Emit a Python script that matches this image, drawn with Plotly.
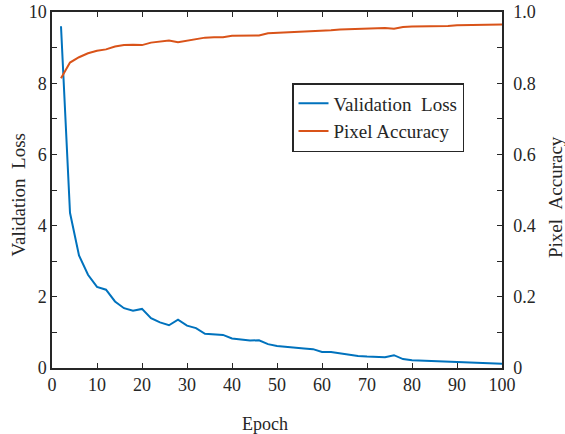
import plotly.graph_objects as go

epochs = list(range(2, 101, 2))
val_loss = [9.6, 4.36, 3.16, 2.62, 2.28, 2.20, 1.87, 1.68, 1.61, 1.66,
            1.40, 1.28, 1.20, 1.36, 1.19, 1.12, 0.96, 0.94, 0.93, 0.83,
            0.80, 0.77, 0.78, 0.67,
            0.62, 0.59, 0.57, 0.55, 0.53, 0.45, 0.45, 0.41, 0.37, 0.34,
            0.32, 0.31, 0.30, 0.36, 0.25, 0.22, 0.21, 0.20, 0.19, 0.17,
            0.15, 0.14, 0.14, 0.13, 0.12, 0.12]
pixel_acc = [0.814, 0.858, 0.873, 0.884, 0.891, 0.895, 0.903, 0.907, 0.908, 0.907,
             0.914, 0.918, 0.920, 0.915, 0.920, 0.923, 0.928, 0.929, 0.929, 0.933,
             0.934, 0.935, 0.934, 0.940, 0.941, 0.942, 0.943, 0.944, 0.946,
             0.948, 0.949, 0.951, 0.952, 0.953, 0.954, 0.955, 0.955, 0.953, 0.958,
             0.959, 0.959, 0.960, 0.960, 0.961, 0.963, 0.963, 0.963, 0.963, 0.964,
             0.965]

x_ticks = list(range(0, 101, 10))
y1_ticks = [0, 2, 4, 6, 8, 10]
y2_ticks = [0, 0.2, 0.4, 0.6, 0.8, 1.0]
y2_labels = ["0", "0.2", "0.4", "0.6", "0.8", "1.0"]

BLUE = "#0072BD"
ORANGE = "#D95319"
AX = "#262626"
FONT = "Liberation Serif"

L, R, T, B = 52, 63, 12, 66
W, H = 565, 434
plot_w = W - L - R
plot_h = H - T - B


def px_x(px):
    return (px - L) / plot_w


def px_y(py):
    return (H - B - py) / plot_h


fig = go.Figure()
fig.add_trace(go.Scatter(x=epochs, y=val_loss, mode="lines", name="Validation\u00a0\u00a0Loss",
                         line=dict(color=BLUE, width=2)))
fig.add_trace(go.Scatter(x=epochs, y=pixel_acc, mode="lines", name="Pixel Accuracy",
                         line=dict(color=ORANGE, width=2), yaxis="y2"))

fig.update_layout(
    width=W, height=H,
    margin=dict(l=L, r=R, t=T, b=B, autoexpand=False),
    paper_bgcolor="white", plot_bgcolor="white",
    font=dict(family=FONT, size=18, color=AX),
    showlegend=True,
    legend=dict(x=px_x(292), y=px_y(83), xanchor="left", yanchor="top",
                bgcolor="white", bordercolor=AX, borderwidth=1.5,
                font=dict(family=FONT, size=19, color=AX),
                tracegroupgap=0),
    xaxis=dict(range=[0, 100], tickvals=x_ticks, ticks="inside", ticklen=5,
               tickcolor=AX, showline=True, linecolor=AX, linewidth=1.5,
               mirror="ticks", showgrid=False, zeroline=False, automargin=False,
               tickfont=dict(size=18)),
    yaxis=dict(range=[0, 10], tickvals=y1_ticks, ticks="inside", ticklen=5,
               tickcolor=AX, showline=True, linecolor=AX, linewidth=1.5,
               showgrid=False, zeroline=False, automargin=False,
               minor=dict(dtick=1, ticks="inside", ticklen=5, tickcolor=AX, showgrid=False),
               tickfont=dict(size=18)),
    yaxis2=dict(range=[0, 1], tickvals=y2_ticks, ticktext=y2_labels, overlaying="y",
                side="right", ticks="inside", ticklen=5, tickcolor=AX,
                showline=True, linecolor=AX, linewidth=1.5, showgrid=False,
                zeroline=False, automargin=False, ticklabelstandoff=6,
                minor=dict(dtick=0.1, ticks="inside", ticklen=5, tickcolor=AX, showgrid=False),
                tickfont=dict(size=18)),
    annotations=[
        dict(text="Epoch", x=px_x(265), y=px_y(424), xref="paper", yref="paper",
             showarrow=False, font=dict(size=18), xanchor="center", yanchor="middle"),
        dict(text="Validation\u00a0\u00a0Loss", x=px_x(17.5), y=px_y(195), xref="paper", yref="paper",
             showarrow=False, font=dict(size=19), textangle=-90,
             xanchor="center", yanchor="middle"),
        dict(text="Pixel\u00a0\u00a0Accuracy", x=px_x(555), y=px_y(197), xref="paper", yref="paper",
             showarrow=False, font=dict(size=19), textangle=-90,
             xanchor="center", yanchor="middle"),
    ],
)

fig.write_html("out.html", config={"displayModeBar": False},
               post_script="document.body.style.margin='0';")
